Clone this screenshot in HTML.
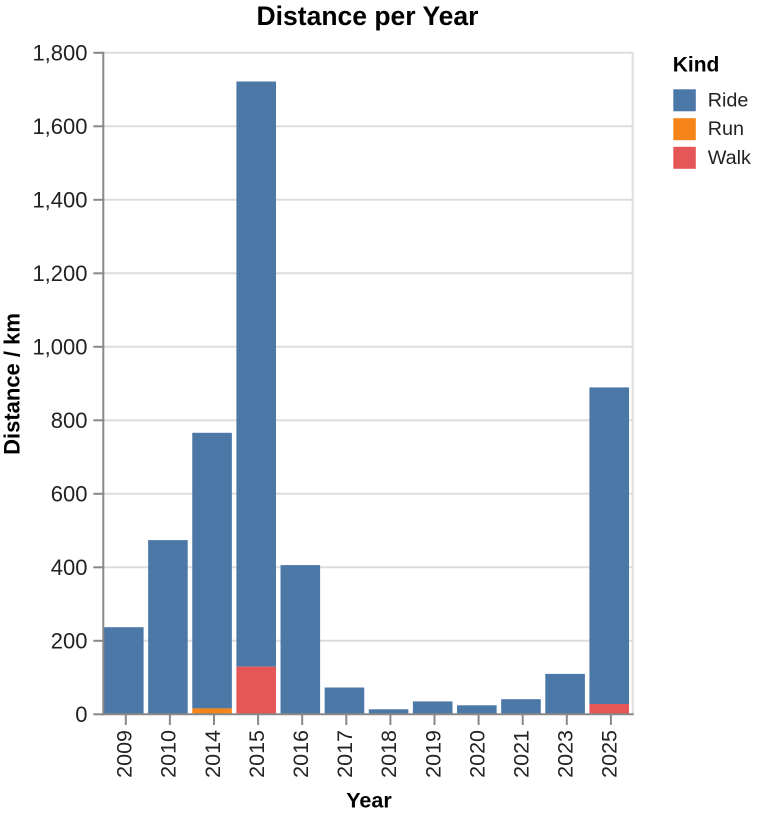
<!DOCTYPE html>
<html><head><meta charset="utf-8"><style>
html,body{margin:0;padding:0;background:#fff;}
svg{display:block;}
text{font-family:"Liberation Sans",sans-serif;}
</style></head><body>
<svg width="761" height="814" viewBox="0 0 761 814" xmlns="http://www.w3.org/2000/svg">
<rect width="761" height="814" fill="#fff"/>
<!-- grid -->
<g stroke="#dddddd" stroke-width="2">
<line x1="103.3" y1="640.8" x2="632.7" y2="640.8"/>
<line x1="103.3" y1="567.3" x2="632.7" y2="567.3"/>
<line x1="103.3" y1="493.8" x2="632.7" y2="493.8"/>
<line x1="103.3" y1="420.3" x2="632.7" y2="420.3"/>
<line x1="103.3" y1="346.8" x2="632.7" y2="346.8"/>
<line x1="103.3" y1="273.3" x2="632.7" y2="273.3"/>
<line x1="103.3" y1="199.8" x2="632.7" y2="199.8"/>
<line x1="103.3" y1="126.3" x2="632.7" y2="126.3"/>
<line x1="103.3" y1="52.8" x2="632.7" y2="52.8"/>
<line x1="632.7" y1="52.8" x2="632.7" y2="714.3"/>
</g>
<!-- bars -->
<g>
<rect x="104" y="627.2" width="39.6" height="87.1" fill="#4c78a8"/>
<rect x="148.13" y="540.1" width="39.6" height="174.2" fill="#4c78a8"/>
<rect x="192.26" y="432.8" width="39.6" height="275.6" fill="#4c78a8"/>
<rect x="192.26" y="708.4" width="39.6" height="5.9" fill="#f58518"/>
<rect x="236.39" y="81.5" width="39.6" height="585.2" fill="#4c78a8"/>
<rect x="236.39" y="666.7" width="39.6" height="47.6" fill="#e45756"/>
<rect x="280.52" y="565.1" width="39.6" height="149.2" fill="#4c78a8"/>
<rect x="324.65" y="687.5" width="39.6" height="26.8" fill="#4c78a8"/>
<rect x="368.78" y="709.3" width="39.6" height="5" fill="#4c78a8"/>
<rect x="412.91" y="701.4" width="39.6" height="12.9" fill="#4c78a8"/>
<rect x="457.04" y="705.3" width="39.6" height="9" fill="#4c78a8"/>
<rect x="501.17" y="699.2" width="39.6" height="15.1" fill="#4c78a8"/>
<rect x="545.3" y="673.9" width="39.6" height="40.4" fill="#4c78a8"/>
<rect x="589.43" y="387.4" width="39.6" height="316.6" fill="#4c78a8"/>
<rect x="589.43" y="704" width="39.6" height="10.3" fill="#e45756"/>
</g>
<!-- axes -->
<g stroke="#888" stroke-width="2">
<line x1="103.3" y1="51.8" x2="103.3" y2="715.3"/>
<line x1="102.3" y1="714.3" x2="633.7" y2="714.3"/>
<!-- y ticks -->
<line x1="93.3" y1="714.3" x2="103.3" y2="714.3"/>
<line x1="93.3" y1="640.8" x2="103.3" y2="640.8"/>
<line x1="93.3" y1="567.3" x2="103.3" y2="567.3"/>
<line x1="93.3" y1="493.8" x2="103.3" y2="493.8"/>
<line x1="93.3" y1="420.3" x2="103.3" y2="420.3"/>
<line x1="93.3" y1="346.8" x2="103.3" y2="346.8"/>
<line x1="93.3" y1="273.3" x2="103.3" y2="273.3"/>
<line x1="93.3" y1="199.8" x2="103.3" y2="199.8"/>
<line x1="93.3" y1="126.3" x2="103.3" y2="126.3"/>
<line x1="93.3" y1="52.8" x2="103.3" y2="52.8"/>
<!-- x ticks -->
<line x1="125.8" y1="714.3" x2="125.8" y2="725"/>
<line x1="169.9" y1="714.3" x2="169.9" y2="725"/>
<line x1="214" y1="714.3" x2="214" y2="725"/>
<line x1="258.1" y1="714.3" x2="258.1" y2="725"/>
<line x1="302.2" y1="714.3" x2="302.2" y2="725"/>
<line x1="346.3" y1="714.3" x2="346.3" y2="725"/>
<line x1="390.4" y1="714.3" x2="390.4" y2="725"/>
<line x1="434.5" y1="714.3" x2="434.5" y2="725"/>
<line x1="478.6" y1="714.3" x2="478.6" y2="725"/>
<line x1="522.7" y1="714.3" x2="522.7" y2="725"/>
<line x1="566.8" y1="714.3" x2="566.8" y2="725"/>
<line x1="610.9" y1="714.3" x2="610.9" y2="725"/>
</g>
<!-- y labels -->
<g font-size="22" fill="#222" text-anchor="end">
<text x="87.5" y="722">0</text>
<text x="87.5" y="648.5">200</text>
<text x="87.5" y="575">400</text>
<text x="87.5" y="501.5">600</text>
<text x="87.5" y="428">800</text>
<text x="87.5" y="354.5">1,000</text>
<text x="87.5" y="281">1,200</text>
<text x="87.5" y="207.5">1,400</text>
<text x="87.5" y="134">1,600</text>
<text x="87.5" y="60.5">1,800</text>
</g>
<!-- x labels -->
<g font-size="21.5" fill="#222" text-anchor="end">
<text transform="translate(131.6,730) rotate(-90)">2009</text>
<text transform="translate(175.7,730) rotate(-90)">2010</text>
<text transform="translate(219.8,730) rotate(-90)">2014</text>
<text transform="translate(263.9,730) rotate(-90)">2015</text>
<text transform="translate(308,730) rotate(-90)">2016</text>
<text transform="translate(352.1,730) rotate(-90)">2017</text>
<text transform="translate(396.2,730) rotate(-90)">2018</text>
<text transform="translate(440.3,730) rotate(-90)">2019</text>
<text transform="translate(484.4,730) rotate(-90)">2020</text>
<text transform="translate(528.5,730) rotate(-90)">2021</text>
<text transform="translate(572.6,730) rotate(-90)">2023</text>
<text transform="translate(616.7,730) rotate(-90)">2025</text>
</g>
<!-- axis titles -->
<text x="369" y="807.7" font-size="21.5" font-weight="bold" fill="#000" text-anchor="middle">Year</text>
<text transform="translate(19.5,384) rotate(-90)" font-size="22" font-weight="bold" fill="#000" text-anchor="middle">Distance / km</text>
<!-- title -->
<text x="367.5" y="25" font-size="26.5" font-weight="bold" fill="#000" text-anchor="middle">Distance per Year</text>
<!-- legend -->
<text x="672.7" y="71.7" font-size="21" font-weight="bold" fill="#000">Kind</text>
<rect x="673.3" y="89.3" width="22.5" height="22" fill="#4c78a8"/>
<rect x="673.3" y="118.2" width="22.5" height="22" fill="#f58518"/>
<rect x="673.3" y="146.8" width="22.5" height="22" fill="#e45756"/>
<g font-size="19.8" fill="#222">
<text x="707.7" y="106.5">Ride</text>
<text x="707.7" y="135.2">Run</text>
<text x="707.7" y="163.8">Walk</text>
</g>
</svg>
</body></html>
